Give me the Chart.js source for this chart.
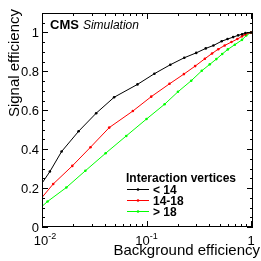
<!DOCTYPE html>
<html>
<head>
<meta charset="utf-8">
<script src="https://cdn.jsdelivr.net/npm/chart.js@4"></script>
<style>
    html, body { margin: 0; padding: 0; background: #fff; }
    canvas { display: block; }
</style>
</head>
<body>
<canvas id="myChart" width="261" height="261"></canvas>
<script>
    // background efficiency (x) and signal efficiency (y), one pair of arrays per pileup bin
    const bkgLow = [0.01, 0.0119, 0.0154, 0.0224, 0.033, 0.049, 0.082, 0.119, 0.169, 0.23, 0.299, 0.369, 0.437, 0.524, 0.596, 0.675, 0.753, 0.822, 0.884, 1.0]
    const sigLow = [0.225, 0.285, 0.388, 0.492, 0.585, 0.667, 0.733, 0.788, 0.834, 0.870, 0.895, 0.918, 0.933, 0.955, 0.966, 0.976, 0.985, 0.991, 0.997, 1.0]

    const bkgMid = [0.01, 0.0128, 0.0195, 0.0291, 0.044, 0.074, 0.111, 0.166, 0.228, 0.292, 0.362, 0.424, 0.486, 0.56, 0.65, 0.74, 0.82, 0.88, 1.0]
    const sigMid = [0.152, 0.221, 0.314, 0.410, 0.511, 0.596, 0.670, 0.736, 0.786, 0.827, 0.865, 0.892, 0.914, 0.933, 0.951, 0.966, 0.98, 0.99, 1.0]

    const bkgHigh = [0.01, 0.0113, 0.0171, 0.026, 0.0406, 0.064, 0.1, 0.149, 0.2, 0.268, 0.338, 0.403, 0.466, 0.53, 0.6, 0.7, 0.82, 0.9, 1.0]
    const sigHigh = [0.106, 0.131, 0.203, 0.289, 0.379, 0.468, 0.555, 0.631, 0.695, 0.752, 0.803, 0.836, 0.863, 0.889, 0.913, 0.937, 0.962, 0.984, 1.0]

    const seriesLabels = ['< 14', '14-18', '> 18']
    const legendTitle = 'Interaction vertices'

    const yTicks = [0, 0.2, 0.4, 0.6, 0.8, 1]
    const yTickLabels = ['0', '0.2', '0.4', '0.6', '0.8', '1']
    const xTicks = [0.01, 0.1, 1]
    const xTickBase = ['10', '10', '1']
    const xTickExp = ['-2', '-1', '']

    const FONT = "'Liberation Sans', Arial, sans-serif"

    function toPoints(xs, ys) {
        return xs.map((x, i) => ({ x: x, y: ys[i] }))
    }

    function makeSet(label, xs, ys, color) {
        return {
            label: label,
            data: toPoints(xs, ys),
            showLine: true,
            borderColor: color,
            backgroundColor: color,
            borderWidth: 1,
            pointRadius: (c) => c.dataIndex === 0 ? 0 : 1.3,
            pointBorderWidth: 0,
            tension: 0
        }
    }

    // frame, ROOT style inward ticks, labels, titles and legend
    const decor = {
        id: 'decor',
        afterDraw(chart) {
            const ctx = chart.ctx
            const a = chart.chartArea
            const xs = chart.scales.x
            const ys = chart.scales.y
            ctx.save()
            ctx.strokeStyle = '#000'
            ctx.lineWidth = 1
            ctx.strokeRect(a.left + 0.5, a.top + 0.5, a.right - a.left - 1, a.bottom - a.top - 1)

            ctx.beginPath()
            // y ticks, left and right
            for (let v = 0; v <= 1.1001; v += 0.05) {
                const py = Math.round(ys.getPixelForValue(v)) + 0.5
                const major = Math.abs(v * 5 - Math.round(v * 5)) < 1e-6
                const len = major ? 6 : 3
                ctx.moveTo(a.left, py); ctx.lineTo(a.left + len, py)
                ctx.moveTo(a.right, py); ctx.lineTo(a.right - len, py)
            }
            // x ticks, bottom and top
            for (let d = -2; d <= 0; d++) {
                for (let k = 1; k <= 9; k++) {
                    const v = k * Math.pow(10, d)
                    if (v > xs.max) continue
                    const px = Math.round(xs.getPixelForValue(v)) + 0.5
                    const len = k === 1 ? 6 : 3
                    ctx.moveTo(px, a.bottom); ctx.lineTo(px, a.bottom - len)
                    ctx.moveTo(px, a.top); ctx.lineTo(px, a.top + len)
                }
            }
            ctx.stroke()

            // y tick labels
            ctx.fillStyle = '#000'
            ctx.font = '13px ' + FONT
            ctx.textAlign = 'right'
            ctx.textBaseline = 'middle'
            yTicks.forEach((v, i) => {
                ctx.fillText(yTickLabels[i], a.left - 3, ys.getPixelForValue(v) + 1)
            })

            // x tick labels with exponent
            ctx.textBaseline = 'alphabetic'
            xTicks.forEach((v, i) => {
                const px = xs.getPixelForValue(v)
                ctx.font = '13px ' + FONT
                const wb = ctx.measureText(xTickBase[i]).width
                ctx.font = '9px ' + FONT
                const we = xTickExp[i] ? ctx.measureText(xTickExp[i]).width : 0
                const x0 = px - (wb + we) / 2 + (i === 0 ? 3 : 0)
                ctx.textAlign = 'left'
                ctx.font = '13px ' + FONT
                ctx.fillText(xTickBase[i], x0, 245)
                if (xTickExp[i]) {
                    ctx.font = '9px ' + FONT
                    ctx.fillText(xTickExp[i], x0 + wb, 239)
                }
            })

            // axis titles
            ctx.font = '15px ' + FONT
            ctx.textAlign = 'right'
            ctx.fillText('Background efficiency', 260, 255)
            ctx.save()
            ctx.translate(19, 9)
            ctx.rotate(-Math.PI / 2)
            ctx.textAlign = 'right'
            ctx.fillText('Signal efficiency', 0, 0)
            ctx.restore()

            // CMS label
            ctx.textAlign = 'left'
            ctx.font = 'bold 13px ' + FONT
            ctx.fillText('CMS', 50, 29)
            const wc = ctx.measureText('CMS').width
            ctx.font = 'italic 12px ' + FONT
            ctx.fillText('Simulation', 50 + wc + 4, 29)

            // legend
            ctx.font = 'bold 12px ' + FONT
            ctx.fillText(legendTitle, 126, 182)
            chart.data.datasets.forEach((ds, i) => {
                const y = 189 + i * 11
                ctx.strokeStyle = ds.borderColor
                ctx.lineWidth = 1
                ctx.beginPath()
                ctx.moveTo(127, y + 0.5); ctx.lineTo(149, y + 0.5)
                ctx.stroke()
                ctx.fillStyle = ds.borderColor
                ctx.beginPath()
                ctx.arc(138, y + 0.5, 1.3, 0, Math.PI * 2)
                ctx.fill()
                ctx.fillStyle = '#000'
                ctx.fillText(ds.label, 153, y + 4.5)
            })
            ctx.restore()
        }
    }

    const ctx = document.getElementById('myChart').getContext('2d')
    const chart = new Chart(ctx, {
        type: 'scatter',
        data: {
            datasets: [
                makeSet(seriesLabels[0], bkgLow, sigLow, '#000000'),
                makeSet(seriesLabels[1], bkgMid, sigMid, '#ff0000'),
                makeSet(seriesLabels[2], bkgHigh, sigHigh, '#00ff00')
            ]
        },
        options: {
            responsive: false,
            animation: false,
            layout: { padding: { left: 42, right: 8, top: 13, bottom: 34 } },
            plugins: {
                legend: { display: false },
                tooltip: { enabled: false }
            },
            scales: {
                x: { type: 'logarithmic', min: 0.01, max: 1.045, display: false },
                y: { type: 'linear', min: 0, max: 1.1, display: false }
            }
        },
        plugins: [decor]
    })
</script>
</body>
</html>
